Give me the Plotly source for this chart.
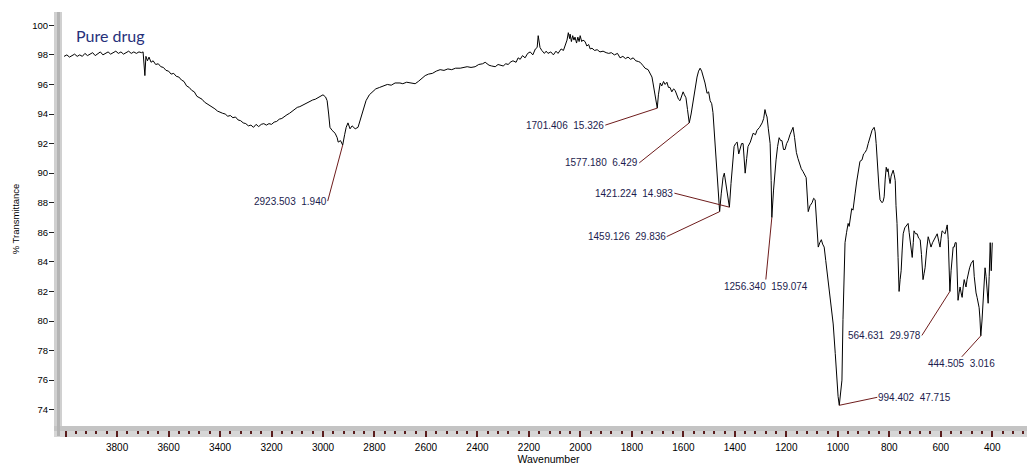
import plotly.graph_objects as go

# ---------------- data ----------------
wavenumber = [
    4006, 3995, 3985, 3975, 3965, 3955, 3945, 3935, 3925, 3915, 3905, 3895, 3885, 3875, 3865,
    3855, 3845, 3835, 3825, 3815, 3805, 3795, 3785, 3775, 3765, 3755, 3745, 3735, 3725, 3715,
    3705, 3699, 3692, 3688, 3682, 3676, 3668, 3660, 3650, 3640, 3630, 3620, 3610, 3600, 3590,
    3580, 3570, 3560, 3550, 3540, 3530, 3520, 3510, 3500, 3490, 3480, 3470, 3460, 3450, 3440,
    3430, 3420, 3410, 3400, 3390, 3380, 3370, 3360, 3350, 3340, 3330, 3320, 3310, 3300, 3290,
    3280, 3270, 3260, 3250, 3240, 3230, 3220, 3210, 3200, 3190, 3180, 3170, 3160, 3150, 3140,
    3130, 3120, 3110, 3100, 3090, 3080, 3070, 3060, 3050, 3040, 3030, 3020, 3010, 3000, 2990,
    2984, 2978, 2973, 2965, 2953, 2945, 2941, 2932, 2923.503, 2916, 2910, 2903, 2895, 2887, 2875,
    2864, 2856, 2848, 2840, 2833, 2820, 2809, 2795, 2780, 2765, 2750, 2735, 2720, 2701, 2690,
    2675, 2660, 2642, 2630, 2615, 2603, 2590, 2575, 2560, 2545, 2530, 2515, 2500, 2485, 2467,
    2455, 2440, 2425, 2409, 2395, 2380, 2370, 2355, 2345, 2331, 2320, 2312, 2300, 2290, 2280,
    2273, 2262, 2250, 2242, 2234, 2225, 2215, 2205, 2195, 2185, 2175, 2168, 2164, 2160, 2157,
    2150, 2140, 2133, 2126, 2115, 2105, 2095, 2087, 2075, 2066, 2060, 2052, 2047, 2042, 2040,
    2035, 2030, 2025, 2021, 2015, 2010, 2005, 2001, 1995, 1990, 1982, 1975, 1968, 1962, 1955,
    1945, 1935, 1924, 1912, 1900, 1890, 1880, 1868, 1856, 1846, 1835, 1825, 1815, 1805, 1795,
    1785, 1775, 1768, 1758, 1749, 1737, 1729, 1722, 1718, 1712, 1706, 1701.406, 1697, 1690, 1684,
    1677, 1671, 1664, 1658, 1652, 1645, 1638, 1632, 1625, 1619, 1613, 1607, 1601, 1596, 1590,
    1584, 1577.180, 1570, 1562, 1555, 1547, 1541, 1535, 1529, 1523, 1516, 1508, 1502, 1496, 1490,
    1485, 1481, 1477, 1469, 1464, 1459.126, 1453, 1446, 1441, 1435, 1427, 1421.224, 1415, 1409, 1403,
    1397, 1391, 1385, 1380, 1374, 1368, 1364, 1360, 1354, 1349, 1340, 1329, 1320, 1314, 1304,
    1294, 1288, 1283, 1279, 1275, 1270, 1263, 1259, 1256.340, 1250, 1245, 1240, 1234, 1228, 1222,
    1217, 1211, 1205, 1199, 1193, 1186, 1180, 1174, 1168, 1161, 1155, 1149, 1142, 1135, 1129,
    1123, 1115, 1108, 1100, 1094, 1088, 1082, 1076, 1070, 1064, 1059, 1053, 1047, 1041, 1034,
    1026, 1018, 1010, 1004, 999, 994.402, 989, 984, 980, 976, 972, 966, 960, 956, 952,
    946, 941, 937, 933, 927, 921, 914, 906, 900, 894, 888, 882, 875, 867, 859,
    855, 851, 848, 844, 840, 836, 832, 828, 824, 820, 816, 812, 808, 805, 801,
    797, 793, 789, 785, 781, 777, 774, 770, 766, 762, 758, 754, 750, 746, 740,
    735, 731, 727, 723, 719, 715, 711, 707, 704, 698, 692, 686, 680, 675, 669,
    665, 661, 655, 649, 644, 638, 632, 626, 620, 614, 608, 603, 599, 595, 589,
    583, 579, 575, 571, 568, 564.631, 560, 556, 552, 548, 544, 540, 536, 533, 529,
    525, 521, 517, 513, 509, 505, 502, 498, 494, 488, 482, 478, 474, 470, 467,
    463, 459, 455, 451, 448, 444.505, 440, 436, 432, 428, 424, 420, 416, 412, 408,
    404, 400,
]

transmittance = [
    97.9, 98.0, 97.85, 97.95, 98.05, 97.9, 98.0, 97.9, 98.1, 97.95, 98.05, 98.15, 97.95, 98.1, 98.2,
    98.0, 98.1, 98.2, 98.05, 98.15, 98.25, 98.1, 98.2, 98.05, 98.15, 98.25, 98.1, 98.2, 98.1, 98.2,
    98.15, 98.2, 96.6, 97.9, 97.6, 97.85, 97.5, 97.6, 97.35, 97.4, 97.2, 97.15, 96.95, 96.9, 96.7,
    96.75, 96.55, 96.5, 96.3, 96.2, 95.9, 95.8, 95.6, 95.5, 95.2, 95.1, 95.0, 94.8, 94.7, 94.55,
    94.5, 94.35, 94.2, 94.1, 94.05, 94.0, 93.85, 93.9, 93.75, 93.8, 93.6, 93.55, 93.4, 93.35, 93.2,
    93.25, 93.1, 93.3, 93.15, 93.3, 93.35, 93.25, 93.35, 93.3, 93.45, 93.5, 93.65, 93.7, 93.85, 93.95,
    94.05, 94.2, 94.3, 94.45, 94.5, 94.6, 94.7, 94.75, 94.85, 94.95, 95.0, 95.1, 95.2, 95.3, 95.15,
    94.9, 94.0, 93.1, 92.9, 92.7, 92.4, 92.1, 92.2, 91.9, 92.6, 93.1, 93.4, 93.0, 93.2, 93.0,
    93.1, 93.6, 94.1, 94.6, 94.9, 95.3, 95.5, 95.7, 95.8, 95.9, 96.0, 95.95, 96.1, 96.1, 96.05,
    96.15, 96.1, 96.05, 96.2, 96.4, 96.6, 96.7, 96.75, 96.9, 97.0, 96.95, 97.05, 97.0, 97.1, 97.1,
    97.15, 97.2, 97.15, 97.2, 97.35, 97.4, 97.5, 97.3, 97.25, 97.2, 97.35, 97.3, 97.25, 97.4, 97.35,
    97.5, 97.6, 97.5, 97.8, 97.7, 97.95, 97.8, 98.1, 98.2, 98.0, 98.4, 98.5, 99.3, 98.7, 98.5,
    98.3, 98.1, 98.25, 98.1, 98.2, 98.0, 98.25, 98.1, 98.4, 98.3, 98.6, 99.0, 99.5, 99.1, 99.4,
    98.9, 99.3, 99.0, 99.2, 98.8, 99.2, 98.9, 99.3, 98.9, 99.0, 98.9, 98.6, 98.7, 98.4, 98.45,
    98.3, 98.35, 98.2, 98.25, 98.15, 98.1, 98.15, 98.0, 98.1, 97.8, 97.9, 97.75, 97.85, 97.7, 97.8,
    97.6, 97.55, 97.5, 97.3, 97.1, 97.0, 96.7, 96.5, 96.1, 95.4, 94.6, 94.4, 95.3, 96.1, 95.9,
    96.2, 96.0, 96.15, 95.8, 95.8, 95.5, 95.7, 95.6, 95.2, 95.0, 94.9, 95.3, 95.5, 95.3, 95.1,
    94.3, 93.4, 94.0, 94.9, 95.8, 96.5, 96.9, 97.1, 96.9, 96.6, 96.1, 95.4, 95.5, 94.9, 94.7,
    94.1, 93.0, 91.8, 89.5, 88.3, 87.4, 88.6, 89.7, 90.0, 89.3, 88.2, 87.7, 89.3, 90.6, 91.8,
    92.0, 92.1, 91.3, 91.6, 92.0, 92.0, 91.1, 90.0, 91.0, 91.8, 92.1, 92.7, 92.6, 92.9, 93.1,
    93.4, 93.7, 94.3, 94.0, 93.8, 93.0, 92.0, 89.5, 87.0, 88.8, 90.0, 90.9, 91.8, 92.4, 92.2,
    92.2, 91.6, 91.6, 92.0, 92.2, 92.6, 92.8, 93.1, 92.4, 91.4, 91.0, 90.6, 90.3, 90.1, 89.9,
    89.7, 87.4, 87.8, 88.0, 88.3, 88.2, 86.5, 85.0, 85.3, 85.5, 85.2, 85.0, 84.1, 83.2, 82.3,
    81.2, 79.8, 77.8, 75.8, 74.9, 74.3, 75.2, 76.0, 80.1, 83.0, 85.3, 86.0, 86.6, 86.4, 87.0,
    87.6, 87.5, 88.2, 88.6, 89.4, 90.0, 90.8, 90.9, 91.3, 91.4, 91.6, 92.0, 92.5, 92.9, 93.1,
    92.8, 92.0, 91.0, 90.0, 89.0, 88.2, 88.1, 88.0, 88.1, 88.4, 89.6, 90.4, 90.1, 90.3, 89.7,
    89.3, 89.8, 90.1, 90.2, 89.9, 89.5, 87.8, 86.6, 84.3, 82.0, 82.8, 83.4, 84.8, 85.9, 86.3,
    86.4, 86.5, 86.6, 86.0, 85.5, 84.9, 84.3, 85.3, 86.1, 85.9, 85.9, 85.6, 85.5, 84.5, 82.8,
    83.2, 83.6, 84.8, 85.7, 85.4, 85.0, 85.3, 85.5, 85.8, 85.9, 85.4, 85.0, 85.6, 86.1, 86.0,
    85.9, 86.2, 86.5, 85.5, 84.1, 82.0, 83.4, 84.6, 85.0, 85.0, 85.3, 85.3, 83.2, 81.4, 81.9,
    82.3, 81.9, 81.6, 82.3, 82.8, 82.5, 82.3, 82.8, 83.2, 83.6, 83.9, 84.0, 84.1, 83.0, 82.3,
    81.9, 81.6, 81.3, 80.9, 80.2, 79.0, 80.0, 81.2, 82.4, 83.6, 83.0, 82.3, 81.2, 83.0, 85.3,
    83.4, 85.3,
]

# labelled peaks: wavenumber and the intensity value printed next to it
peak_wavenumbers = [2923.503, 1701.406, 1577.180, 1459.126, 1421.224, 1256.340, 994.402, 564.631, 444.505]
peak_intensities = ["1.940", "15.326", "6.429", "29.836", "14.983", "159.074", "47.715", "29.978", "3.016"]

x_tick_values = [4000, 3800, 3600, 3400, 3200, 3000, 2800, 2600, 2400, 2200, 2000, 1800, 1600, 1400, 1200, 1000, 800, 600, 400]
x_tick_labels = ["", "3800", "3600", "3400", "3200", "3000", "2800", "2600", "2400", "2200", "2000", "1800", "1600", "1400", "1200", "1000", "800", "600", "400"]
y_tick_values = [74, 76, 78, 80, 82, 84, 86, 88, 90, 92, 94, 96, 98, 100]

# label placement (pixel offsets of the label end from the peak) - layout only
label_layout = [
    dict(ax=-15, ay=56, xanchor="right", yanchor="middle"),
    dict(ax=-52, ay=17, xanchor="right", yanchor="middle"),
    dict(ax=-50, ay=40, xanchor="right", yanchor="middle"),
    dict(ax=-53, ay=25, xanchor="right", yanchor="middle"),
    dict(ax=-55, ay=-14, xanchor="right", yanchor="middle"),
    dict(ax=-6, ay=62, xanchor="center", yanchor="top"),
    dict(ax=38, ay=-8, xanchor="left", yanchor="middle"),
    dict(ax=-28, ay=44, xanchor="right", yanchor="middle"),
    dict(ax=-19, ay=21, xanchor="center", yanchor="top"),
]

FONT = "Liberation Sans, Arial, sans-serif"
LINE_RED = "#6e1c1c"
PLOT_W, PLOT_H = 973, 414  # plot area in pixels

fig = go.Figure()
fig.add_trace(go.Scatter(
    x=wavenumber, y=transmittance, mode="lines",
    line=dict(color="black", width=1), hoverinfo="x+y",
))

lookup = dict(zip(wavenumber, transmittance))
annotations = []
for wn, inten, lay in zip(peak_wavenumbers, peak_intensities, label_layout):
    annotations.append(dict(
        x=wn, y=lookup[wn], xref="x", yref="y",
        text=f"{wn:.3f}\u00a0\u00a0{inten}",
        showarrow=True, arrowhead=0, arrowwidth=1, arrowcolor=LINE_RED,
        ax=lay["ax"], ay=lay["ay"], xanchor=lay["xanchor"], yanchor=lay["yanchor"],
        standoff=0, startstandoff=0, borderpad=0,
        font=dict(family=FONT, size=10, color="#1c1c4e"),
    ))

annotations.append(dict(
    x=0.012, y=0.944, xref="paper", yref="paper", showarrow=False,
    text="Pure drug", xanchor="left", yanchor="middle",
    font=dict(family="Lato, Open Sans, sans-serif", size=16, color="#26307a"),
))

px_x = 1.0 / PLOT_W
px_y = 1.0 / PLOT_H
shapes = [
    # light grey band under the x ticks
    dict(type="rect", xref="paper", yref="paper",
         x0=-8 * px_x, x1=1.0, y0=-11 * px_y, y1=0.0,
         fillcolor="#d6d6d6", line=dict(width=0), layer="below"),
    # darker core of the left grey axis band
    dict(type="rect", xref="paper", yref="paper",
         x0=-5 * px_x, x1=-2 * px_x, y0=-10 * px_y, y1=1.0,
         fillcolor="#b4b4b4", line=dict(width=0), layer="above"),
]

# the page body has an 8px default margin, so the figure is 8px smaller
fig.update_layout(
    width=1027, height=457,
    margin=dict(l=54, r=0, t=4, b=39, autoexpand=False),
    paper_bgcolor="white", plot_bgcolor="white",
    showlegend=False,
    annotations=annotations,
    shapes=shapes,
    font=dict(family=FONT, color="black"),
)

fig.update_xaxes(
    range=[4014, 234], autorange=False, automargin=False,
    tickmode="array", tickvals=x_tick_values, ticktext=x_tick_labels,
    ticks="outside", ticklen=6, tickwidth=1.5, tickcolor="#5a1e1e",
    minor=dict(dtick=40, tick0=0, ticks="outside", ticklen=3, tickwidth=1.5, tickcolor="#5a1e1e"),
    showgrid=False, zeroline=False,
    showline=True, linewidth=5, linecolor="#c4c4c4",
    tickfont=dict(family=FONT, size=10, color="black"),
    ticklabelstandoff=2,
    title=dict(text="Wavenumber", standoff=4, font=dict(family=FONT, size=10.5, color="black")),
)

fig.update_yaxes(
    range=[72.9, 100.9], autorange=False, automargin=False,
    tickmode="array", tickvals=y_tick_values,
    ticks="outside", ticklen=5, tickwidth=1, tickcolor="#222222",
    showgrid=False, zeroline=False,
    showline=True, linewidth=8, linecolor="#d0d0d0",
    tickfont=dict(family=FONT, size=9.5, color="black"),
    ticklabelstandoff=-1,
    title=dict(text="% Transmittance", standoff=14, font=dict(family=FONT, size=9.5, color="black")),
)

fig.write_html("out.html")
